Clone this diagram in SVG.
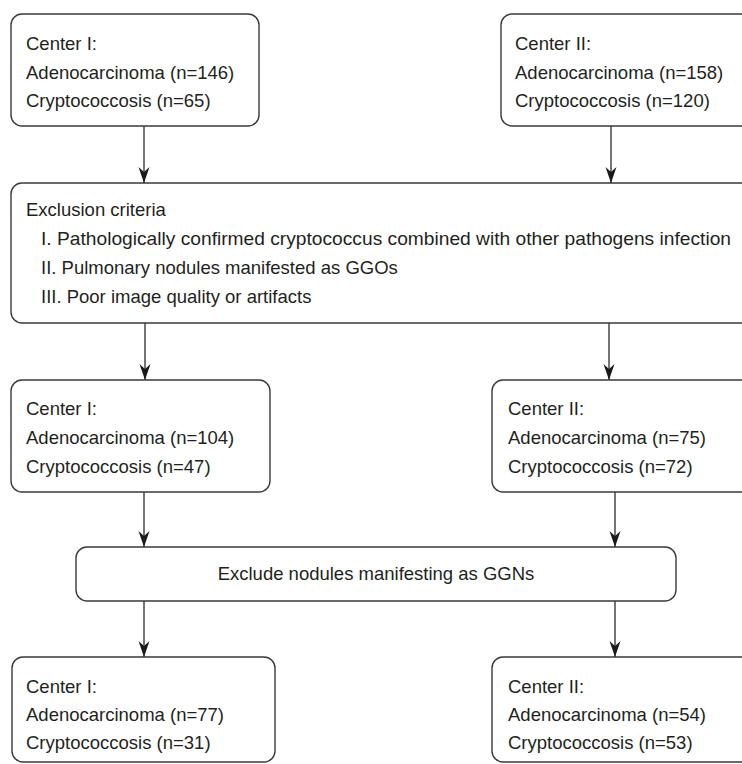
<svg xmlns="http://www.w3.org/2000/svg" width="742" height="764" viewBox="0 0 742 764">
<style>
.box{fill:#fff;stroke:#3a3a3a;stroke-width:1.4}
.t{font-family:"Liberation Sans",Arial,sans-serif;font-size:18.5px;fill:#231f20}
.c{text-anchor:middle}
.ln{fill:none;stroke:#2a2a2a;stroke-width:1.3}
</style>
<defs>
<marker id="arr" markerWidth="17" markerHeight="12" viewBox="0 0 17 12" refX="16" refY="6" orient="auto" markerUnits="userSpaceOnUse">
<path d="M16,6 L0,0.5 L5,6 L0,11.5 Z" fill="#1a1a1a"/>
</marker>
</defs>
<rect width="742" height="764" fill="#fff"/>
<g id="connectors">
<path class="ln" d="M144,126 V183" marker-end="url(#arr)"/>
<path class="ln" d="M611,126 V183" marker-end="url(#arr)"/>
<path class="ln" d="M145,323 V380" marker-end="url(#arr)"/>
<path class="ln" d="M609,323 V380" marker-end="url(#arr)"/>
<path class="ln" d="M144,492 V547" marker-end="url(#arr)"/>
<path class="ln" d="M615,492 V547" marker-end="url(#arr)"/>
<path class="ln" d="M144,601 V657" marker-end="url(#arr)"/>
<path class="ln" d="M615,601 V657" marker-end="url(#arr)"/>
</g>
<g id="center1-initial">
<rect class="box" x="11" y="14" width="248" height="112" rx="11"/>
<text class="t" x="26" y="50">Center I:</text>
<text class="t" x="26" y="79">Adenocarcinoma (n=146)</text>
<text class="t" x="26" y="107">Cryptococcosis (n=65)</text>
</g>
<g id="center2-initial">
<rect class="box" x="501" y="14" width="260" height="112" rx="11"/>
<text class="t" x="515" y="50">Center II:</text>
<text class="t" x="515" y="79">Adenocarcinoma (n=158)</text>
<text class="t" x="515" y="107">Cryptococcosis (n=120)</text>
</g>
<g id="exclusion">
<rect class="box" x="11" y="183" width="750" height="140" rx="11"/>
<text class="t" x="26" y="216">Exclusion criteria</text>
<text class="t" x="41" y="245" textLength="690" lengthAdjust="spacingAndGlyphs">I. Pathologically confirmed cryptococcus combined with other pathogens infection</text>
<text class="t" x="41" y="274">II. Pulmonary nodules manifested as GGOs</text>
<text class="t" x="41" y="303">III. Poor image quality or artifacts</text>
</g>
<g id="center1-mid">
<rect class="box" x="11" y="380" width="259" height="112" rx="11"/>
<text class="t" x="26" y="415">Center I:</text>
<text class="t" x="26" y="444">Adenocarcinoma (n=104)</text>
<text class="t" x="26" y="473">Cryptococcosis (n=47)</text>
</g>
<g id="center2-mid">
<rect class="box" x="492" y="380" width="270" height="112" rx="11"/>
<text class="t" x="508" y="415">Center II:</text>
<text class="t" x="508" y="444">Adenocarcinoma (n=75)</text>
<text class="t" x="508" y="473">Cryptococcosis (n=72)</text>
</g>
<g id="ggn">
<rect class="box" x="76" y="547" width="600" height="54" rx="11"/>
<text class="t c" x="376" y="580">Exclude nodules manifesting as GGNs</text>
</g>
<g id="center1-final">
<rect class="box" x="12" y="657" width="263" height="105" rx="11"/>
<text class="t" x="26" y="693">Center I:</text>
<text class="t" x="26" y="721">Adenocarcinoma (n=77)</text>
<text class="t" x="26" y="749">Cryptococcosis (n=31)</text>
</g>
<g id="center2-final">
<rect class="box" x="492" y="657" width="270" height="105" rx="11"/>
<text class="t" x="508" y="693">Center II:</text>
<text class="t" x="508" y="721">Adenocarcinoma (n=54)</text>
<text class="t" x="508" y="749">Cryptococcosis (n=53)</text>
</g>
</svg>
